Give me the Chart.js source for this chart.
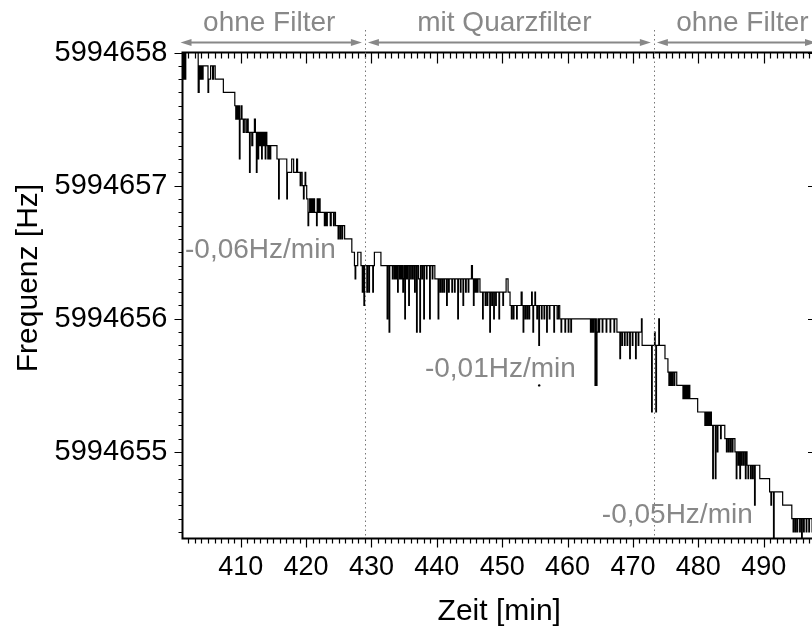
<!DOCTYPE html>
<html>
<head>
<meta charset="utf-8">
<script src="https://cdn.jsdelivr.net/npm/chart.js@4.4.1/dist/chart.umd.min.js"></script>
<style>
  html, body { margin: 0; padding: 0; background: #fff; overflow: hidden; }
  #wrap { width: 840px; height: 633px; }
</style>
</head>
<body>
<div id="wrap"><canvas id="chart" width="840" height="633"></canvas></div>
<script>
// Messung: Zeit [min] und Frequenz [Hz], stufig (0,1 Hz Aufloesung)
var zeit = [
  401.1, 401.2, 401.35, 401.5, 401.6, 403.5, 403.65, 403.8, 403.95, 404.1, 404.25, 405.0, 405.1, 405.4, 405.7, 405.85, 406.1, 407.35,
  409.1, 409.25, 409.4, 409.55, 409.7, 409.8, 409.9, 410.05, 410.2, 410.4, 410.55, 410.8, 411.0, 411.15, 411.35, 411.45, 411.7, 411.85, 412.1, 412.25, 412.4, 412.5,
  412.65, 412.75, 412.9, 413.05, 413.2, 413.3, 413.45, 413.6, 413.75, 413.85, 414.0, 414.15, 414.3, 414.45, 414.6, 415.55, 415.8, 415.9, 417.05, 417.15,
  417.8, 418.1, 418.55, 418.7, 419.1, 419.2, 419.4, 419.6, 419.7, 419.85, 419.95,
  420.1, 420.3, 420.4, 420.55, 420.7, 420.85, 421.0, 421.15, 421.3, 421.6, 421.7, 421.85, 422.0, 422.15,
  422.8, 422.95, 423.1, 423.25, 423.7, 423.85, 424.2, 424.3, 424.5, 424.9, 425.0, 425.2, 425.3, 425.5, 425.6, 425.9, 427.0,
  427.4, 427.5, 427.6, 427.9, 428.4, 428.6, 428.7, 428.85, 428.95, 429.3, 429.4, 429.6, 429.7, 430.2, 430.3, 430.45, 431.45,
  432.4, 432.5, 432.7, 432.8, 433.2, 433.3, 433.5, 433.6, 433.75, 433.85, 434.0, 434.1, 434.3, 434.4, 434.55, 434.65, 434.8, 434.9, 435.0, 435.1, 435.2, 435.35, 435.5, 435.7, 435.8,
  436.0, 436.1, 436.3, 436.4, 436.6, 436.7, 436.9, 437.0, 437.2, 437.4, 437.5, 437.7, 437.8, 438.0, 438.1, 438.4, 438.5, 438.9, 439.0, 439.3, 439.4, 439.7,
  440.2, 440.3, 440.5, 440.6, 440.8, 440.9, 441.1, 441.2, 441.5, 441.6, 441.8, 441.9, 442.3, 442.4, 442.7, 442.8, 443.2, 443.3, 443.6, 443.7, 444.0, 444.1, 444.4, 444.5, 444.8, 444.9, 445.3, 445.45, 445.6, 445.7, 445.85, 446.0, 446.15, 446.3,
  446.6, 447.0, 447.1, 447.4, 447.5, 447.7, 447.8, 448.1, 448.2, 448.4, 448.5, 448.7, 448.8, 449.0, 449.1, 449.5, 449.6, 450.1, 450.2, 450.6, 450.9, 451.2,
  451.4, 451.5, 451.7, 451.8, 452.2, 452.3, 452.9, 453.05, 453.2, 453.3, 453.5, 453.6, 453.8, 453.9, 454.1, 454.2, 454.5, 454.6, 454.7, 454.8, 455.0, 455.1, 455.3, 455.4, 455.6, 455.7, 456.0, 456.1, 456.4, 456.5, 456.8, 456.9, 457.2, 457.3, 457.9, 458.0, 458.4,
  458.6, 458.8, 459.0, 459.1, 459.6, 459.7, 460.1, 460.2, 460.5, 460.6, 463.5, 463.6, 463.7, 463.8, 463.9, 464.0, 464.2, 464.3, 464.4, 464.5, 464.65, 464.8, 464.9, 465.3, 465.4, 465.9, 466.0, 466.5, 466.6, 467.1, 467.2, 467.55,
  468.0, 468.1, 468.3, 468.4, 468.7, 468.8, 469.1, 469.2, 469.5, 469.6, 469.9, 470.0, 470.4, 470.5, 470.8, 470.9, 471.3, 471.4, 472.85, 472.95, 473.3, 473.4, 473.5, 473.6, 473.95, 474.05,
  474.9, 475.35, 475.5, 475.6, 475.75, 475.85, 476.0, 476.1, 476.3, 476.4, 476.7, 477.65, 477.75, 477.9, 478.0, 478.15, 478.3, 478.45, 478.55, 478.7, 479.9,
  481.0, 481.1, 481.25, 481.35, 481.5, 481.6, 481.75, 481.85, 482.0, 482.2, 482.3, 482.6, 482.7, 482.9, 483.0, 483.4, 483.5, 484.05, 484.3, 484.4, 484.6, 484.7, 484.9, 485.0, 485.2, 485.3, 485.6,
  485.8, 485.9, 486.1, 486.2, 486.35, 486.45, 486.6, 486.7, 486.9, 487.0, 487.2, 487.3, 487.45, 487.6, 487.7, 488.0, 488.1, 488.3, 488.4, 488.6, 488.7, 489.4, 490.9, 491.1, 491.2, 491.5, 491.6, 492.9, 494.3,
  494.5, 494.6, 494.8, 494.9, 495.1, 495.2, 495.5, 495.6, 495.8, 495.9, 496.1, 496.2, 496.5, 496.6, 496.9, 497.0, 497.4, 498.0
];
var frequenz = [
  5994658.0, 5994657.8, 5994658.0, 5994657.8, 5994658.0, 5994657.7, 5994657.9, 5994657.8, 5994657.9, 5994657.8, 5994657.9, 5994657.7, 5994657.8, 5994657.9, 5994657.8, 5994657.9, 5994657.8, 5994657.7,
  5994657.6, 5994657.5, 5994657.6, 5994657.5, 5994657.6, 5994657.2, 5994657.5, 5994657.6, 5994657.5, 5994657.4, 5994657.5, 5994657.4, 5994657.5, 5994657.4, 5994657.1, 5994657.4, 5994657.3, 5994657.4, 5994657.5, 5994657.4, 5994657.1, 5994657.4,
  5994657.2, 5994657.4, 5994657.3, 5994657.4, 5994657.2, 5994657.4, 5994657.3, 5994657.4, 5994657.2, 5994657.4, 5994657.3, 5994657.2, 5994657.3, 5994657.2, 5994657.3, 5994657.2, 5994656.9, 5994657.2, 5994656.9, 5994657.1,
  5994657.2, 5994657.1, 5994657.2, 5994657.1, 5994657.0, 5994657.1, 5994657.0, 5994656.9, 5994657.0, 5994657.1, 5994657.0,
  5994656.9, 5994656.7, 5994656.8, 5994656.9, 5994656.8, 5994656.9, 5994656.8, 5994656.9, 5994656.8, 5994656.7, 5994656.9, 5994656.8, 5994656.9, 5994656.8,
  5994656.7, 5994656.8, 5994656.7, 5994656.8, 5994656.7, 5994656.8, 5994656.7, 5994656.8, 5994656.7, 5994656.6, 5994656.7, 5994656.6, 5994656.7, 5994656.6, 5994656.7, 5994656.6, 5994656.5,
  5994656.4, 5994656.3, 5994656.4, 5994656.5, 5994656.4, 5994656.2, 5994656.4, 5994656.1, 5994656.4, 5994656.2, 5994656.4, 5994656.2, 5994656.4, 5994656.2, 5994656.4, 5994656.5, 5994656.4,
  5994656.0, 5994656.4, 5994655.9, 5994656.4, 5994656.3, 5994656.4, 5994656.3, 5994656.4, 5994656.3, 5994656.4, 5994656.2, 5994656.4, 5994656.3, 5994656.4, 5994656.3, 5994656.4, 5994656.2, 5994656.3, 5994656.4, 5994656.0, 5994656.4, 5994656.3, 5994656.4, 5994656.1, 5994656.4,
  5994656.3, 5994656.4, 5994656.3, 5994656.4, 5994656.2, 5994656.4, 5994655.9, 5994656.4, 5994656.3, 5994655.9, 5994656.4, 5994656.3, 5994656.4, 5994656.0, 5994656.4, 5994656.3, 5994656.4, 5994656.0, 5994656.4, 5994656.3, 5994656.4, 5994656.3,
  5994656.0, 5994656.3, 5994656.2, 5994656.3, 5994656.2, 5994656.3, 5994656.2, 5994656.3, 5994656.1, 5994656.3, 5994656.2, 5994656.3, 5994656.2, 5994656.3, 5994656.2, 5994656.3, 5994656.0, 5994656.3, 5994656.2, 5994656.3, 5994656.1, 5994656.3, 5994656.2, 5994656.3, 5994656.2, 5994656.3, 5994656.4, 5994656.3, 5994656.1, 5994656.3, 5994656.2, 5994656.3, 5994656.2, 5994656.3,
  5994656.2, 5994656.0, 5994656.2, 5994656.1, 5994656.2, 5994656.1, 5994656.2, 5994655.9, 5994656.2, 5994656.1, 5994656.2, 5994656.0, 5994656.2, 5994656.1, 5994656.2, 5994656.0, 5994656.2, 5994656.1, 5994656.2, 5994656.3, 5994656.2, 5994656.1,
  5994656.0, 5994656.1, 5994656.0, 5994656.1, 5994656.0, 5994656.1, 5994656.2, 5994656.1, 5994655.9, 5994656.1, 5994656.0, 5994656.1, 5994656.0, 5994656.1, 5994656.0, 5994656.1, 5994656.2, 5994656.1, 5994655.9, 5994656.1, 5994656.2, 5994656.1, 5994656.0, 5994656.1, 5994655.8, 5994656.1, 5994656.0, 5994656.1, 5994656.0, 5994656.1, 5994655.9, 5994656.1, 5994656.0, 5994656.1, 5994655.9, 5994656.1, 5994656.0,
  5994656.1, 5994656.0, 5994655.9, 5994656.0, 5994655.9, 5994656.0, 5994655.9, 5994656.0, 5994655.9, 5994656.0, 5994655.9, 5994656.0, 5994655.9, 5994656.0, 5994655.9, 5994656.0, 5994655.5, 5994656.0, 5994655.5, 5994655.9, 5994656.0, 5994655.9, 5994656.0, 5994655.9, 5994656.0, 5994655.9, 5994656.0, 5994655.9, 5994656.0, 5994655.9, 5994656.0, 5994655.9,
  5994655.7, 5994655.9, 5994655.8, 5994655.9, 5994655.8, 5994655.9, 5994655.8, 5994655.9, 5994655.7, 5994655.9, 5994655.8, 5994655.9, 5994655.7, 5994655.9, 5994655.8, 5994655.9, 5994656.0, 5994655.8, 5994655.3, 5994655.8, 5994655.9, 5994655.8, 5994655.3, 5994655.8, 5994656.0, 5994655.8,
  5994655.7, 5994655.6, 5994655.5, 5994655.6, 5994655.5, 5994655.6, 5994655.5, 5994655.6, 5994655.5, 5994655.6, 5994655.5, 5994655.4, 5994655.5, 5994655.4, 5994655.5, 5994655.4, 5994655.5, 5994655.4, 5994655.5, 5994655.4, 5994655.3,
  5994655.2, 5994655.3, 5994655.2, 5994655.3, 5994655.2, 5994655.3, 5994655.2, 5994655.3, 5994655.2, 5994654.8, 5994655.2, 5994654.8, 5994655.2, 5994655.0, 5994655.2, 5994655.1, 5994655.2, 5994655.1, 5994655.0, 5994655.1, 5994655.0, 5994655.1, 5994655.0, 5994655.1, 5994655.0, 5994655.1, 5994655.0,
  5994654.8, 5994655.0, 5994654.9, 5994655.0, 5994654.8, 5994655.0, 5994654.9, 5994655.0, 5994654.9, 5994655.0, 5994654.8, 5994655.0, 5994654.9, 5994654.8, 5994654.9, 5994654.8, 5994654.9, 5994654.8, 5994654.9, 5994654.6, 5994654.9, 5994654.8, 5994654.7, 5994654.6, 5994654.7, 5994654.2, 5994654.7, 5994654.6, 5994654.5,
  5994654.4, 5994654.5, 5994654.4, 5994654.5, 5994654.4, 5994654.5, 5994654.4, 5994654.5, 5994654.2, 5994654.5, 5994654.4, 5994654.5, 5994654.4, 5994654.5, 5994654.4, 5994654.5, 5994654.4, 5994654.5
];
// einzelner Messpunkt (Ausreisser)
var punktZeit = [455.66];
var punktFrequenz = [5994655.5];

var xTicks = [410, 420, 430, 440, 450, 460, 470, 480, 490];
var yTicks = [5994655, 5994656, 5994657, 5994658];
var filterWechsel = [429.0, 473.2];
var bereiche = ['ohne Filter', 'mit Quarzfilter', 'ohne Filter'];
var driftTexte = ['-0,06Hz/min', '-0,01Hz/min', '-0,05Hz/min'];

var schrift = "'Liberation Sans', Arial, Helvetica, sans-serif";
var grau = '#888888';

// Rahmen, Ticks, Trennlinien und Beschriftungen
var rahmen = {
    id: 'rahmen',
    afterDraw: function(chart) {
        var ctx = chart.ctx;
        var a = chart.chartArea;
        var sx = chart.scales.x, sy = chart.scales.y;
        ctx.save();
        ctx.strokeStyle = '#000';
        ctx.lineWidth = 2;
        ctx.strokeRect(a.left, a.top, a.right - a.left, a.bottom - a.top);

        ctx.lineWidth = 1.2;
        ctx.beginPath();
        // x-Ticks: unten nach aussen, oben nach innen
        for (var m = Math.ceil(sx.min); m <= sx.max; m++) {
            var px = Math.round(sx.getPixelForValue(m)) + 0.5;
            var major = (m % 10 === 0);
            ctx.moveTo(px, a.bottom);
            ctx.lineTo(px, a.bottom + (major ? 9 : 5));
            ctx.moveTo(px, a.top);
            ctx.lineTo(px, a.top + (major ? 11 : 6));
        }
        // y-Ticks: links nach aussen, rechts nach innen
        for (var i = Math.ceil(sy.min * 10); i <= Math.floor(sy.max * 10 + 0.001); i++) {
            var py = Math.round(sy.getPixelForValue(i / 10)) + 0.5;
            var maj = (i % 10 === 0);
            ctx.moveTo(a.left, py);
            ctx.lineTo(a.left - (maj ? 8 : 4), py);
            ctx.moveTo(a.right, py);
            ctx.lineTo(a.right - (maj ? 8 : 4), py);
        }
        ctx.stroke();

        // gepunktete Trennlinien
        ctx.strokeStyle = '#777';
        ctx.lineWidth = 1;
        ctx.setLineDash([1.5, 3]);
        filterWechsel.forEach(function(t) {
            var px = Math.round(sx.getPixelForValue(t)) + 0.5;
            ctx.beginPath();
            ctx.moveTo(px, 30);
            ctx.lineTo(px, a.bottom);
            ctx.stroke();
        });
        ctx.setLineDash([]);

        // Pfeile und Bereichsnamen
        var grenzen = [a.left - 2, sx.getPixelForValue(filterWechsel[0]), sx.getPixelForValue(filterWechsel[1]), a.right];
        var versatz = [-2, -5, 6];
        ctx.strokeStyle = grau;
        ctx.fillStyle = grau;
        ctx.lineWidth = 2;
        ctx.font = '28px ' + schrift;
        ctx.textAlign = 'center';
        ctx.textBaseline = 'alphabetic';
        for (var k = 0; k < 3; k++) {
            var x1 = grenzen[k] + (k === 0 ? 0 : 3);
            var x2 = grenzen[k + 1] - (k === 2 ? 0 : 3);
            var y = 42.5;
            ctx.beginPath();
            ctx.moveTo(x1 + 6, y);
            ctx.lineTo(x2 - 6, y);
            ctx.stroke();
            ctx.beginPath();
            ctx.moveTo(x1, y); ctx.lineTo(x1 + 11, y - 3.5); ctx.lineTo(x1 + 11, y + 3.5); ctx.closePath();
            ctx.moveTo(x2, y); ctx.lineTo(x2 - 11, y - 3.5); ctx.lineTo(x2 - 11, y + 3.5); ctx.closePath();
            ctx.fill();
            ctx.fillText(bereiche[k], (x1 + x2) / 2 + versatz[k], 31);
        }

        // Driftraten
        var anker = [[401.48, 5994656.457], [438.18, 5994655.564], [465.24, 5994654.468]];
        ctx.textAlign = 'left';
        driftTexte.forEach(function(txt, j) {
            ctx.fillText(txt, sx.getPixelForValue(anker[j][0]), sy.getPixelForValue(anker[j][1]));
        });

        // y-Achsentitel
        ctx.fillStyle = '#000';
        ctx.font = '30px ' + schrift;
        ctx.textAlign = 'center';
        ctx.textBaseline = 'middle';
        ctx.translate(29, 278);
        ctx.rotate(-Math.PI / 2);
        ctx.fillText('Frequenz [Hz]', 0, 0);
        ctx.restore();
    }
};

var punkte = zeit.map(function(t, i) { return {x: t, y: frequenz[i]}; });
var ausreisser = punktZeit.map(function(t, i) { return {x: t, y: punktFrequenz[i]}; });

var myChart = new Chart(document.getElementById('chart'), {
    type: 'line',
    data: {
        datasets: [{
            data: punkte,
            borderColor: '#000',
            borderWidth: 1.2,
            pointRadius: 0,
            stepped: true,
            fill: false
        }, {
            type: 'scatter',
            data: ausreisser,
            pointRadius: 1.2,
            backgroundColor: '#000',
            borderWidth: 0
        }]
    },
    options: {
        responsive: false,
        animation: false,
        layout: { padding: { top: 52.5, right: 24, left: 0, bottom: 0 } },
        plugins: { legend: { display: false }, tooltip: { enabled: false } },
        scales: {
            x: {
                type: 'linear',
                min: 401.1,
                max: 498,
                afterFit: function(s) { s.height = 94.5; },
                afterBuildTicks: function(s) { s.ticks = xTicks.map(function(v) { return {value: v}; }); },
                grid: { display: false, drawTicks: false },
                border: { display: false },
                ticks: { font: { family: schrift, size: 27 }, color: '#000', padding: 13, maxRotation: 0, autoSkip: false },
                title: { display: true, text: 'Zeit [min]', color: '#000', font: { family: schrift, size: 30 }, padding: { top: 0, bottom: 3 } }
            },
            y: {
                type: 'linear',
                min: 5994654.35,
                max: 5994658,
                afterFit: function(s) { s.width = 182.5; },
                afterBuildTicks: function(s) { s.ticks = yTicks.map(function(v) { return {value: v}; }); },
                grid: { display: false, drawTicks: false },
                border: { display: false },
                ticks: { font: { family: schrift, size: 29 }, color: '#000', padding: 15, autoSkip: false,
                         callback: function(v) { return String(v); } }
            }
        }
    },
    plugins: [rahmen]
});
</script>
</body>
</html>
